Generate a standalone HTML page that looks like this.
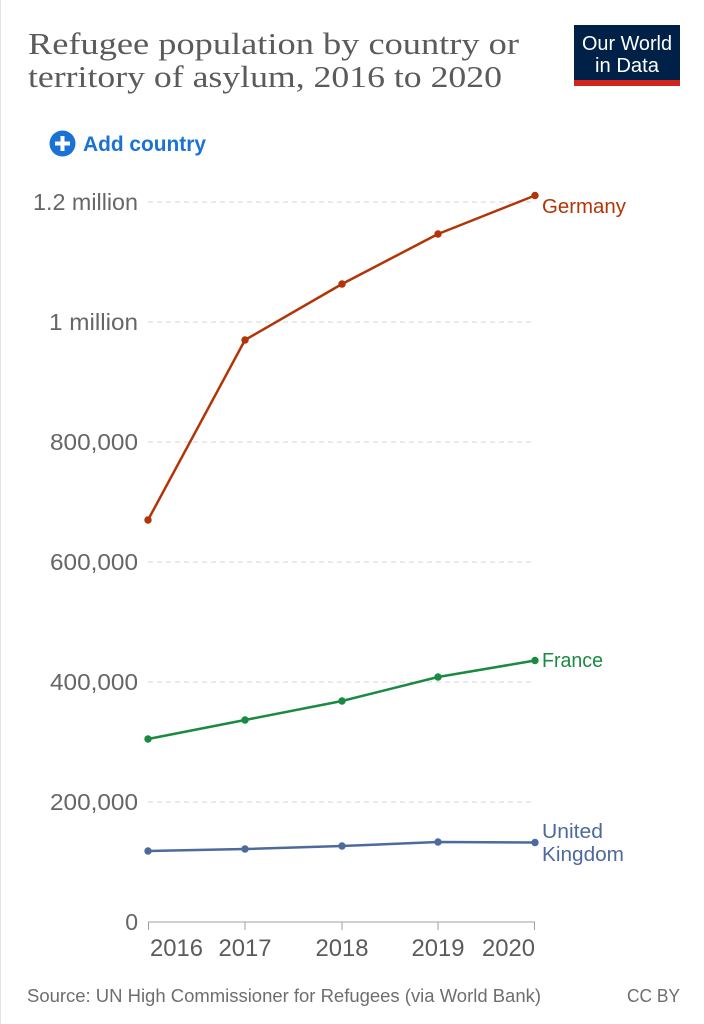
<!DOCTYPE html>
<html><head><meta charset="utf-8"><style>
html,body{margin:0;padding:0;background:#fff;}
svg{display:block;}
text{font-family:"Liberation Sans",sans-serif;}
</style></head><body>
<svg width="704" height="1024" viewBox="0 0 704 1024" xmlns="http://www.w3.org/2000/svg">
<rect width="704" height="1024" fill="#fff"/>
<line x1="0.5" y1="0" x2="0.5" y2="1024" stroke="#e4e4e4" stroke-width="1"/>
<!-- Title -->
<text x="28" y="54" font-size="31" fill="#5b5b5b" textLength="491" lengthAdjust="spacingAndGlyphs" style="font-family:'Liberation Serif',serif">Refugee population by country or</text>
<text x="28" y="87" font-size="31" fill="#5b5b5b" textLength="474" lengthAdjust="spacingAndGlyphs" style="font-family:'Liberation Serif',serif">territory of asylum, 2016 to 2020</text>
<!-- Logo -->
<rect x="574" y="25" width="106" height="61" fill="#002147"/>
<rect x="574" y="80" width="106" height="6" fill="#ce261e"/>
<text x="627" y="50" font-size="20" fill="#fff" text-anchor="middle" textLength="90" lengthAdjust="spacingAndGlyphs">Our World</text>
<text x="627" y="72" font-size="20" fill="#fff" text-anchor="middle" textLength="64" lengthAdjust="spacingAndGlyphs">in Data</text>
<!-- Add country -->
<circle cx="62.5" cy="143.5" r="13" fill="#1a73d4"/>
<rect x="55" y="141.5" width="15" height="4" fill="#fff"/>
<rect x="60.5" y="136" width="4" height="15" fill="#fff"/>
<text x="83" y="151" font-size="21.5" font-weight="bold" fill="#1a73d4" textLength="123" lengthAdjust="spacingAndGlyphs">Add country</text>
<!-- Grid -->
<g stroke="#d6d6d6" stroke-width="1" stroke-dasharray="5,4">
<line x1="148" y1="202" x2="535" y2="202"/>
<line x1="148" y1="322" x2="535" y2="322"/>
<line x1="148" y1="442" x2="535" y2="442"/>
<line x1="148" y1="562" x2="535" y2="562"/>
<line x1="148" y1="682" x2="535" y2="682"/>
<line x1="148" y1="802" x2="535" y2="802"/>
</g>
<!-- Y labels -->
<g font-size="23" fill="#666" text-anchor="end">
<text x="138" y="210" textLength="105" lengthAdjust="spacingAndGlyphs">1.2 million</text>
<text x="138" y="330" textLength="89" lengthAdjust="spacingAndGlyphs">1 million</text>
<text x="138" y="450" textLength="88" lengthAdjust="spacingAndGlyphs">800,000</text>
<text x="138" y="570" textLength="88" lengthAdjust="spacingAndGlyphs">600,000</text>
<text x="138" y="690" textLength="88" lengthAdjust="spacingAndGlyphs">400,000</text>
<text x="138" y="810" textLength="88" lengthAdjust="spacingAndGlyphs">200,000</text>
<text x="138" y="930">0</text>
</g>
<!-- X axis -->
<line x1="148" y1="922" x2="535" y2="922" stroke="#a0a0a0" stroke-width="1"/>
<g stroke="#a0a0a0" stroke-width="1">
<line x1="148.5" y1="922" x2="148.5" y2="930"/>
<line x1="245" y1="922" x2="245" y2="930"/>
<line x1="342" y1="922" x2="342" y2="930"/>
<line x1="438" y1="922" x2="438" y2="930"/>
<line x1="534.5" y1="922" x2="534.5" y2="930"/>
</g>
<g font-size="24" fill="#5b5b5b">
<text x="150" y="956" textLength="53" lengthAdjust="spacingAndGlyphs">2016</text>
<text x="245" y="956" text-anchor="middle" textLength="53" lengthAdjust="spacingAndGlyphs">2017</text>
<text x="342" y="956" text-anchor="middle" textLength="53" lengthAdjust="spacingAndGlyphs">2018</text>
<text x="438" y="956" text-anchor="middle" textLength="53" lengthAdjust="spacingAndGlyphs">2019</text>
<text x="535" y="956" text-anchor="end" textLength="53" lengthAdjust="spacingAndGlyphs">2020</text>
</g>
<!-- Germany -->
<polyline points="148,520 245,340 342,284 438,234 535,195.5" fill="none" stroke="#b13507" stroke-width="2.5" stroke-linejoin="round"/>
<g fill="#b13507">
<circle cx="148" cy="520" r="3.7"/><circle cx="245" cy="340" r="3.7"/><circle cx="342" cy="284" r="3.7"/><circle cx="438" cy="234" r="3.7"/><circle cx="535" cy="195.5" r="3.7"/>
</g>
<text x="542" y="213" font-size="20.5" fill="#b13507" textLength="84" lengthAdjust="spacingAndGlyphs">Germany</text>
<!-- France -->
<polyline points="148,739 245,720 342,701 438,677 535,660.5" fill="none" stroke="#1a8a42" stroke-width="2.5" stroke-linejoin="round"/>
<g fill="#1a8a42">
<circle cx="148" cy="739" r="3.7"/><circle cx="245" cy="720" r="3.7"/><circle cx="342" cy="701" r="3.7"/><circle cx="438" cy="677" r="3.7"/><circle cx="535" cy="660.5" r="3.7"/>
</g>
<text x="542" y="667" font-size="20.5" fill="#1a8a42" textLength="61" lengthAdjust="spacingAndGlyphs">France</text>
<!-- UK -->
<polyline points="148,851 245,849 342,846 438,842 535,842.5" fill="none" stroke="#4c6a9c" stroke-width="2.5" stroke-linejoin="round"/>
<g fill="#4c6a9c">
<circle cx="148" cy="851" r="3.7"/><circle cx="245" cy="849" r="3.7"/><circle cx="342" cy="846" r="3.7"/><circle cx="438" cy="842" r="3.7"/><circle cx="535" cy="842.5" r="3.7"/>
</g>
<text x="542" y="838" font-size="20.5" fill="#4c6a9c" textLength="61" lengthAdjust="spacingAndGlyphs">United</text>
<text x="542" y="861" font-size="20.5" fill="#4c6a9c" textLength="82" lengthAdjust="spacingAndGlyphs">Kingdom</text>
<!-- Footer -->
<text x="27" y="1002" font-size="18" fill="#6e6e6e" textLength="514" lengthAdjust="spacingAndGlyphs">Source: UN High Commissioner for Refugees (via World Bank)</text>
<text x="680" y="1002" font-size="18" fill="#6e6e6e" text-anchor="end" textLength="53" lengthAdjust="spacingAndGlyphs">CC BY</text>
</svg>
</body></html>
